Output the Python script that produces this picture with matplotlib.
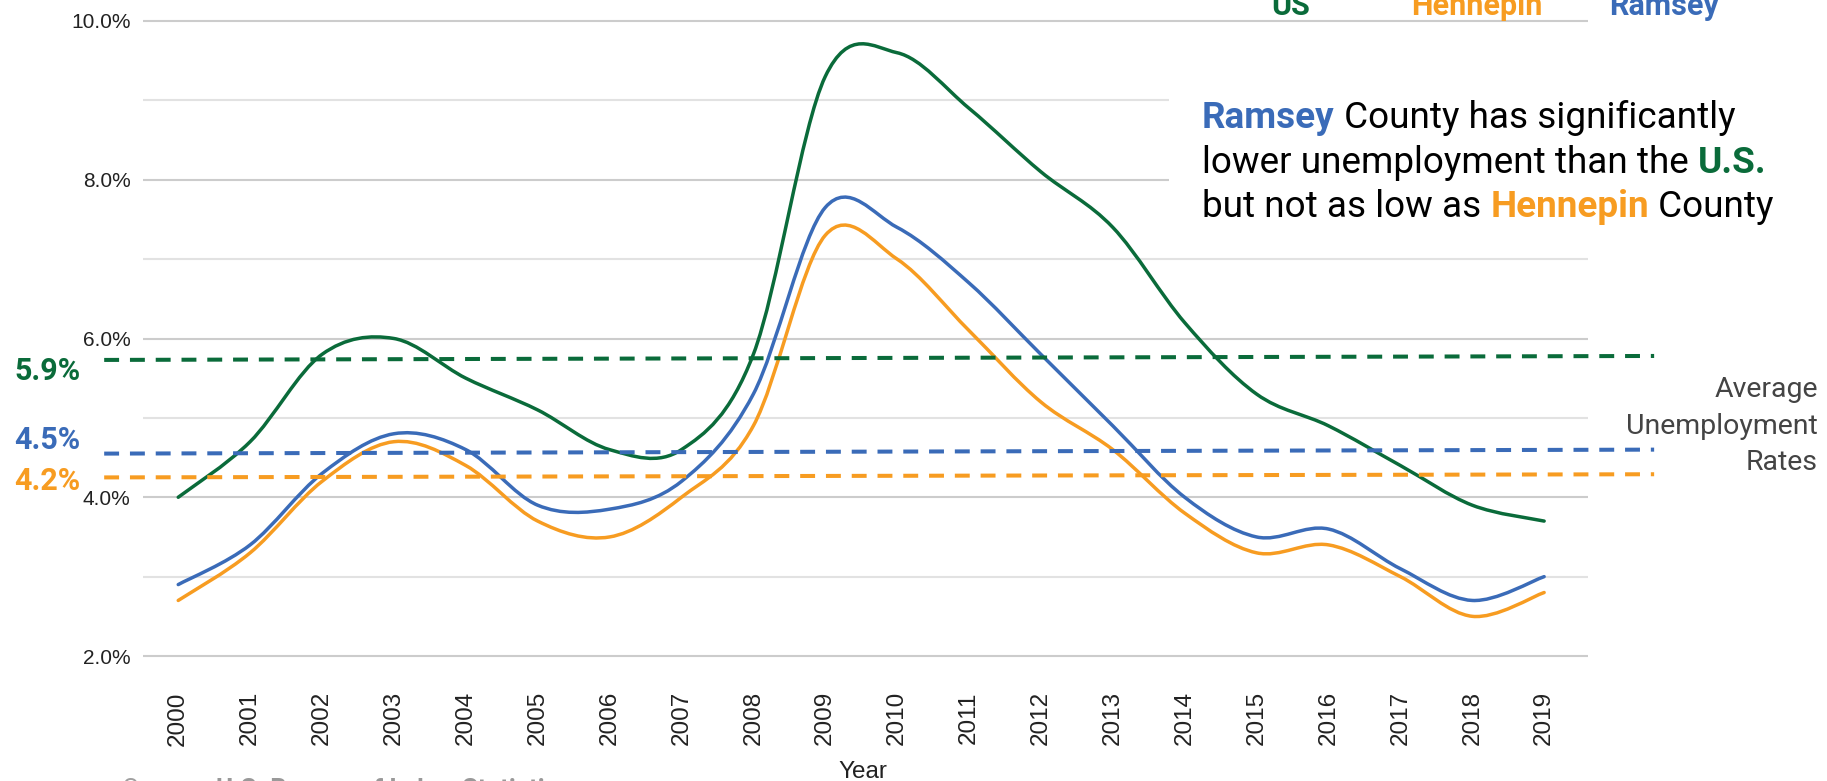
import matplotlib
matplotlib.use("Agg")
import matplotlib.pyplot as plt
import matplotlib.font_manager as fm
from matplotlib.path import Path
from matplotlib.patches import PathPatch, Rectangle

# unemployment rate (%) by year
years = list(range(2000, 2020))
us = [4.0, 4.7, 5.8, 6.0, 5.5, 5.1, 4.6, 4.6, 5.8, 9.3, 9.6, 8.9, 8.1, 7.4, 6.2, 5.3, 4.9, 4.4, 3.9, 3.7]
hennepin = [2.7, 3.3, 4.2, 4.7, 4.4, 3.7, 3.5, 4.0, 4.9, 7.3, 7.0, 6.1, 5.2, 4.6, 3.8, 3.3, 3.4, 3.0, 2.5, 2.8]
ramsey = [2.9, 3.4, 4.3, 4.8, 4.6, 3.9, 3.85, 4.2, 5.3, 7.65, 7.4, 6.7, 5.8, 4.9, 4.0, 3.5, 3.6, 3.1, 2.7, 3.0]

series_names = ["US", "Hennepin", "Ramsey"]

# average lines: US, Ramsey, Hennepin (top to bottom)
avg_labels = ["5.9%", "4.5%", "4.2%"]
# the hand-drawn average lines sit slightly tilted in the original
avg_start = [5.73, 4.55, 4.25]
avg_end = [5.78, 4.60, 4.29]

major_ticks = [2, 4, 6, 8, 10]
minor_ticks = [3, 5, 7, 9]

GREEN = "#0a6b3a"
ORANGE = "#f79c21"
BLUE = "#3a6bb8"
series_colors = [GREEN, ORANGE, BLUE]
avg_colors = [GREEN, BLUE, ORANGE]

W, H = 1827, 781


def has_font(name):
    try:
        fm.findfont(name, fallback_to_default=False)
        return True
    except ValueError:
        return False


narrow = has_font("Liberation Sans Narrow")
ytick_family = "Liberation Sans Narrow" if narrow else "Liberation Sans"
ytick_size = 16.5 if narrow else 15


def fx(px):
    return px / W


def fy(py):
    return 1 - py / H


def smooth_path(xs, ys):
    # Catmull-Rom through the data points, drawn as cubic beziers
    n = len(xs)
    verts = [(xs[0], ys[0])]
    codes = [Path.MOVETO]
    for i in range(n - 1):
        xa, ya = (xs[i - 1], ys[i - 1]) if i > 0 else (xs[i], ys[i])
        xd, yd = (xs[i + 2], ys[i + 2]) if i + 2 < n else (xs[i + 1], ys[i + 1])
        c1 = (xs[i] + (xs[i + 1] - xa) / 6, ys[i] + (ys[i + 1] - ya) / 6)
        c2 = (xs[i + 1] - (xd - xs[i]) / 6, ys[i + 1] - (yd - ys[i]) / 6)
        verts += [c1, c2, (xs[i + 1], ys[i + 1])]
        codes += [Path.CURVE4] * 3
    return Path(verts, codes)


fig = plt.figure(figsize=(W / 100, H / 100), dpi=100)
ax = fig.add_axes([fx(143), fy(659.2), fx(1588) - fx(143), fy(17.8) - fy(659.2)])
ax.set_xlim(1999.51, 2019.61)
ax.set_ylim(1.96, 10.04)

for s in ax.spines.values():
    s.set_visible(False)

ax.set_axisbelow(True)
ax.set_yticks(major_ticks)
ax.set_yticks(minor_ticks, minor=True)
ax.set_yticklabels([f"{v:.1f}%" for v in major_ticks], family=ytick_family,
                   fontsize=ytick_size, color="#222222")
ax.grid(axis="y", which="major", color="#cccccc", lw=1.5)
ax.grid(axis="y", which="minor", color="#e2e2e2", lw=1.5)
ax.tick_params(axis="y", which="both", length=0, pad=9)

ax.set_xticks(years)
ax.set_xticklabels([str(y) for y in years], rotation=90, family="Liberation Sans",
                   fontsize=17.5, color="#222222")
ax.tick_params(axis="x", length=0, pad=23)

# white box behind the annotation hides the gridlines there
ax.add_patch(Rectangle((2013.78, 7.25), 8, 2.25, facecolor="white", edgecolor="none",
                       zorder=1, clip_on=False))

for vals, c in zip([us, hennepin, ramsey], series_colors):
    ax.add_patch(PathPatch(smooth_path(years, vals), fill=False, edgecolor=c, lw=2.5,
                           zorder=2, capstyle="round", joinstyle="round"))

for y0, y1, c in zip(avg_start, avg_end, avg_colors):
    ax.plot([1998.97, 2020.53], [y0, y1], color=c, lw=2.9, dashes=(3.7, 2.7),
            clip_on=False, zorder=3)

# average labels on the left
for lab, c, base in zip(avg_labels, avg_colors, [380, 449, 490]):
    fig.text(fx(14), fy(base), lab, color=c, fontsize=22, fontweight="bold",
             family="Roboto", va="baseline", ha="left")

# legend along the top (clipped by the image edge)
for name, c, cx in zip(series_names, series_colors, [1291, 1477, 1664]):
    fig.text(fx(cx), fy(15), name, color=c, fontsize=22, fontweight="bold",
             family="Roboto", va="baseline", ha="center")

for line, base in zip(["Average", "Unemployment", "Rates"], [397, 434, 470]):
    fig.text(fx(1818), fy(base), line, color="#444444", fontsize=20.5,
             family="Roboto", va="baseline", ha="right")


def rich_line(parts, x, base, size):
    prev = None
    for text, c, weight in parts:
        if prev is None:
            prev = fig.text(fx(x), fy(base), text, color=c, fontsize=size,
                            fontweight=weight, family="Roboto", va="baseline", ha="left")
        else:
            prev = ax.annotate(text, xy=(1, 0), xycoords=prev, va="bottom", ha="left",
                               color=c, fontsize=size, fontweight=weight, family="Roboto",
                               annotation_clip=False)


rich_line([("Ramsey", BLUE, "bold"), (" County has significantly", "black", "normal")],
          1202, 128, 26.6)
rich_line([("lower unemployment than the ", "black", "normal"), ("U.S.", GREEN, "bold")],
          1202, 173, 26.6)
rich_line([("but not as low as ", "black", "normal"), ("Hennepin", ORANGE, "bold"),
           (" County", "black", "normal")], 1202, 217, 26.6)

fig.text(fx(863), fy(778), "Year", family=ytick_family, fontsize=18 if narrow else 17.5,
         color="#222222", ha="center", va="baseline")

rich_line([("Source: ", "#a0a0a0", "normal"), ("U.S. Bureau of Labor Statistics", "#999999", "bold")],
          123, 797, 18.5)

fig.savefig("out.png", dpi=100)
